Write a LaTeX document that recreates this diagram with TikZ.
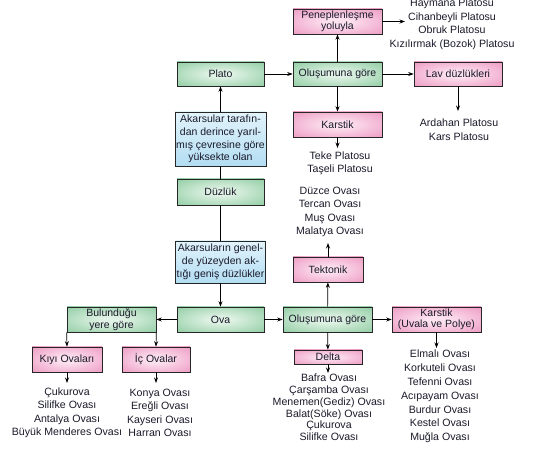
\documentclass[tikz,border=0pt]{standalone}
\usepackage{fontspec}
\setmainfont{Liberation Sans}
\usetikzlibrary{arrows.meta}
\definecolor{gin}{HTML}{E0F2E5}
\definecolor{gout}{HTML}{8CCB9F}
\definecolor{pin}{HTML}{FCE2EF}
\definecolor{pout}{HTML}{EC96C0}
\definecolor{bin}{HTML}{E2F4FC}
\definecolor{bout}{HTML}{B3DDF2}
\definecolor{txt}{HTML}{1A1A2A}
\pgfdeclareradialshading{gshade}{\pgfpointorigin}{color(0bp)=(gin); color(6bp)=(gin); color(38bp)=(gout); color(50bp)=(gout)}
\pgfdeclareradialshading{pshade}{\pgfpointorigin}{color(0bp)=(pin); color(6bp)=(pin); color(38bp)=(pout); color(50bp)=(pout)}
\tikzset{
  box/.style={draw=black!85, line width=0.7pt, align=center, inner sep=1pt, text=txt, font=\fontsize{10.5}{11.5}\selectfont},
  gbox/.style={box, shading=gshade},
  pbox/.style={box, shading=pshade},
  bbox/.style={box, top color=bin, bottom color=bout, font=\fontsize{10.5}{12.8}\selectfont},
  lst/.style={align=center, inner sep=0pt, text=txt, font=\fontsize{10.6}{13.5}\selectfont},
  arr/.style={-{Stealth[length=5.5pt,width=4pt]}, line width=0.7pt},
  ln/.style={line width=0.7pt}
}
\begin{document}
\begin{tikzpicture}[x=1pt,y=-1pt]
\useasboundingbox (0,0) rectangle (539,449);
% boxes
\node[pbox, minimum width=89pt, minimum height=25pt] (pene) at (337.5,21.5) {Peneplenleşme\\yoluyla};
\node[gbox, minimum width=87pt, minimum height=24pt] (plato) at (220.5,74) {Plato};
\node[gbox, minimum width=89pt, minimum height=24pt] (olus1) at (337.5,74) {Oluşumuna göre};
\node[pbox, minimum width=88pt, minimum height=24pt] (lav) at (458,74) {Lav düzlükleri};
\node[pbox, minimum width=89pt, minimum height=25pt] (karst1) at (337.5,124.5) {Karstik};
\node[bbox, minimum width=87pt, minimum height=54pt] (akar1) at (220.5,139) {Akarsular tarafın-\\dan derince yarıl-\\mış çevresine göre\\yüksekte olan};
\node[gbox, minimum width=87pt, minimum height=26pt] (duz) at (220.5,192) {Düzlük};
\node[bbox, minimum width=87pt, minimum height=42pt] (akar2) at (220.5,262) {Akarsuların genel-\\de yüzeyden ak-\\tığı geniş düzlükler};
\node[pbox, minimum width=70pt, minimum height=25pt] (tekt) at (328,269.5) {Tektonik};
\node[gbox, minimum width=87pt, minimum height=25pt] (ova) at (220.5,319.5) {Ova};
\node[gbox, minimum width=89pt, minimum height=25pt] (bulun) at (111.5,319.5) {Bulunduğu\\yere göre};
\node[gbox, minimum width=89pt, minimum height=25pt] (olus2) at (327.5,319.5) {Oluşumuna göre};
\node[pbox, minimum width=89pt, minimum height=25pt] (karst2) at (436.5,319.5) {Karstik\\(Uvala ve Polye)};
\node[pbox, minimum width=70pt, minimum height=25pt] (kiyi) at (67,359.5) {Kıyı Ovaları};
\node[pbox, minimum width=68pt, minimum height=25pt] (ic) at (156,359.5) {İç Ovalar};
\node[pbox, minimum width=68pt, minimum height=14pt] (delta) at (328,357) {Delta};
% lists
\node[lst] (hay) at (452,24.5) {Haymana Platosu\\Cihanbeyli Platosu\\Obruk Platosu\\Kızılırmak (Bozok) Platosu};
\node[lst] (ard) at (459,129.5) {Ardahan Platosu\\Kars Platosu};
\node[lst] (teke) at (340,163.5) {Teke Platosu\\Taşeli Platosu};
\node[lst] (duzce) at (330,212) {Düzce Ovası\\Tercan Ovası\\Muş Ovası\\Malatya Ovası};
\node[lst] (kiyil) at (67,413) {Çukurova\\Silifke Ovası\\Antalya Ovası\\Büyük Menderes Ovası};
\node[lst] (icl) at (160,413) {Konya Ovası\\Ereğli Ovası\\Kayseri Ovası\\Harran Ovası};
\coordinate (bafin) at (328,373);
\draw[arr] (delta.south) -- (bafin);
\node[lst, font=\fontsize{10.6}{11.8}\selectfont] (delt) at (329,407.5) {Bafra Ovası\\Çarşamba Ovası\\Menemen(Gediz) Ovası\\Balat(Söke) Ovası\\Çukurova\\Silifke Ovası};
\node[lst, font=\fontsize{10.6}{13.8}\selectfont] (karl) at (440,396.5) {Elmalı Ovası\\Korkuteli Ovası\\Tefenni Ovası\\Acıpayam Ovası\\Burdur Ovası\\Kestel Ovası\\Muğla Ovası};
% connector ends
\coordinate (hayin) at (405,21.5);
\coordinate (ardin) at (458,111);
\coordinate (tekein) at (337.5,148);
\coordinate (duzin) at (328,243);
\coordinate (kiyin) at (67,383);
\coordinate (icin) at (156,383);
\coordinate (karin) at (436.5,348);
% connectors
\draw[arr] (plato) -- (olus1);
\draw[arr] (olus1) -- (lav);
\draw[arr] (olus1) -- (pene);
\draw[arr] (olus1) -- (karst1);
\draw[arr] (pene.east) -- (hayin);
\draw[arr] (lav.south) -- (ardin);
\draw[arr] (karst1.south) -- (tekein);
\draw[arr] (akar1) -- (plato);
\draw[ln] (duz) -- (akar1);
\draw[ln] (duz) -- (akar2);
\draw[arr] (akar2) -- (ova);
\draw[arr] (ova) -- (bulun);
\draw[arr] (ova) -- (olus2);
\draw[arr] (olus2) -- (tekt);
\draw[arr] (tekt.north) -- (duzin);
\draw[arr] (olus2) -- (karst2);
\draw[arr] (olus2) -- (delta);
\draw[arr] (karst2.south) -- (karin);
\draw[arr] (bulun.south west) -- (kiyi.north);
\draw[arr] (bulun.south east) -- (ic.north);
\draw[arr] (kiyi.south) -- (kiyin);
\draw[arr] (ic.south) -- (icin);
\end{tikzpicture}
\end{document}
